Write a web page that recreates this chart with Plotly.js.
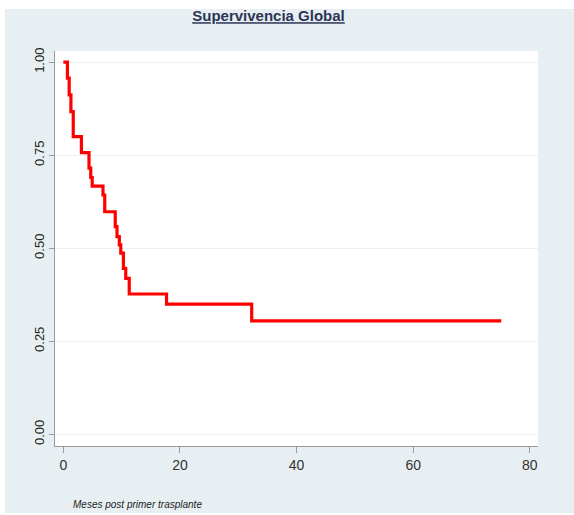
<!DOCTYPE html>
<html>
<head>
<meta charset="utf-8">
<script src="https://cdn.plot.ly/plotly-3.0.1.min.js"></script>
<style>
  html, body { margin: 0; padding: 0; background: #ffffff; }
  #chart { position: absolute; left: 0; top: 0; width: 574px; height: 515px; }
</style>
</head>
<body>
<div id="chart"></div>
<script>
// Kaplan-Meier step points (time in months, survival after the step)
const months = [0, 0.7, 1.0, 1.3, 1.7, 3.1, 4.4, 4.7, 4.95, 6.8, 7.1, 8.9, 9.2, 9.6, 9.85, 10.3, 10.7, 11.3, 17.7, 32.3, 75.1];
const survival = [1.0, 0.957, 0.912, 0.867, 0.80, 0.757, 0.715, 0.69, 0.667, 0.643, 0.598, 0.558, 0.531, 0.509, 0.487, 0.446, 0.419, 0.377, 0.350, 0.305, 0.305];
const xTicks = [0, 20, 40, 60, 80];
const yTicks = [0, 0.25, 0.5, 0.75, 1.0];
const yTickText = ['0.00', '0.25', '0.50', '0.75', '1.00'];
const chartTitle = '<u>Supervivencia Global</u>';
const xTitle = 'Meses post primer trasplante';

const trace = {
  x: months,
  y: survival,
  type: 'scatter',
  mode: 'lines',
  line: { shape: 'hv', color: '#ff0000', width: 3.2 },
  hoverinfo: 'skip'
};

const layout = {
  width: 574,
  height: 515,
  paper_bgcolor: '#ffffff',
  plot_bgcolor: 'rgba(0,0,0,0)',
  margin: { l: 55, r: 36, t: 51, b: 69 },
  showlegend: false,
  font: { family: 'Arial, "Liberation Sans", sans-serif', color: '#222222' },
  shapes: [
    { type: 'rect', xref: 'paper', yref: 'paper', x0: -0.1036, x1: 1.08, y0: -0.1696, y1: 1.1063,
      fillcolor: '#e8eff2', line: { width: 0 }, layer: 'below' },
    { type: 'rect', xref: 'paper', yref: 'paper', x0: 0, x1: 1, y0: 0, y1: 1,
      fillcolor: '#ffffff', line: { width: 0 }, layer: 'below' }
  ],
  title: {
    text: chartTitle,
    font: { size: 15, color: '#2b3556', family: 'Arial, "Liberation Sans", sans-serif', weight: 'bold' },
    xref: 'container', x: 0.4678, xanchor: 'center',
    yref: 'container', y: 0.969, yanchor: 'middle'
  },
  xaxis: {
    range: [-1.43, 81.4],
    tickvals: xTicks,
    ticktext: xTicks.map(String),
    showgrid: false,
    zeroline: false,
    showline: true,
    linecolor: '#9a9a9a',
    linewidth: 1,
    ticks: 'outside',
    ticklen: 6,
    tickcolor: '#9a9a9a',
    tickfont: { size: 14, color: '#333333' },
    fixedrange: true
  },
  yaxis: {
    range: [-0.0315, 1.030],
    tickvals: yTicks,
    ticktext: yTickText,
    tickangle: -90,
    showgrid: true,
    gridcolor: '#eaf1f3',
    gridwidth: 1,
    zeroline: false,
    showline: true,
    linecolor: '#9a9a9a',
    linewidth: 1,
    ticks: 'outside',
    ticklen: 5,
    tickcolor: '#9a9a9a',
    tickfont: { size: 13, color: '#222222' },
    fixedrange: true
  },
  annotations: [{
    text: '<i>' + xTitle + '</i>',
    xref: 'paper', yref: 'paper',
    x: 0.034, y: -0.1476,
    xanchor: 'left', yanchor: 'middle',
    showarrow: false,
    font: { size: 10, color: '#222222', family: '"Liberation Sans Narrow", Arial, "Liberation Sans", sans-serif' }
  }]
};

Plotly.newPlot('chart', [trace], layout, { displayModeBar: false, staticPlot: true });
</script>
</body>
</html>
